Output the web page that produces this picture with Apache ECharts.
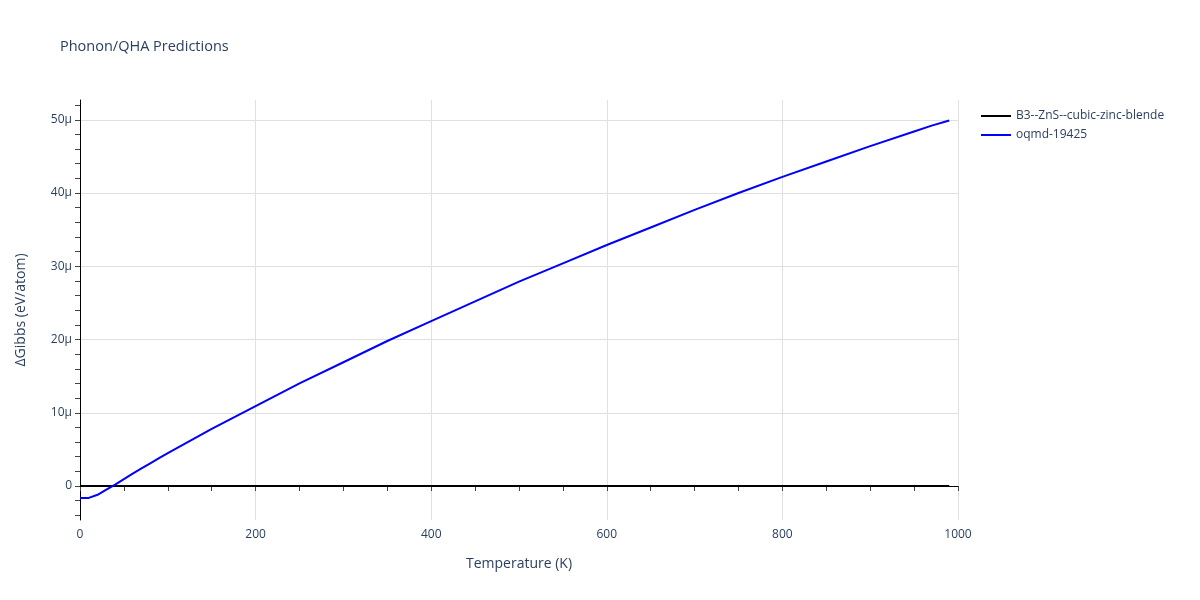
<!DOCTYPE html>
<html>
<head>
<meta charset="utf-8">
<script src="https://cdn.jsdelivr.net/npm/echarts@6/dist/echarts.min.js"></script>
<style>html,body{margin:0;padding:0;background:#fff}#c{width:1200px;height:600px}</style>
</head>
<body>
<div id="c"></div>
<script>
// Temperatures (K)
var temps = [0,10,20,30,40,50,60,70,80,90,100,150,200,250,300,350,400,450,500,550,600,650,700,750,800,850,900,950,970,990];
// ΔGibbs in µeV/atom
var oqmd = [-1.64,-1.62,-1.2,-0.5,0.2,0.95,1.7,2.4,3.1,3.8,4.5,7.8,10.9,14.0,16.9,19.8,22.5,25.2,27.9,30.4,32.9,35.3,37.7,40.0,42.2,44.3,46.4,48.4,49.2,49.9];
var refTemps = [0,990];
var refVals = [0,0];
var yMajor = [0,10,20,30,40,50];
var yMinor = [-4,-2,0,2,4,6,8,10,12,14,16,18,20,22,24,26,28,30,32,34,36,38,40,42,44,46,48,50,52];
var seriesNames = ['B3--ZnS--cubic-zinc-blende','oqmd-19425'];

var font = '"Open Sans", verdana, arial, sans-serif';
var txt = '#2a3f5f';
var yMin = -4.64, yMax = 52.7;

var chart = echarts.init(document.getElementById('c'));
chart.setOption({
  animation: false,
  backgroundColor: '#fff',
  title: {
    text: 'Phonon/QHA Predictions', left: 55, top: 34,
    textStyle: {fontFamily: font, fontSize: 14.5, fontWeight: 'normal', color: txt}
  },
  legend: {
    orient: 'vertical', left: 976, top: 105, itemWidth: 30, itemHeight: 2, itemGap: 7,
    icon: 'rect',
    textStyle: {fontFamily: font, fontSize: 12, color: txt},
    data: seriesNames
  },
  grid: {left: 80, right: 242, top: 100, bottom: 80, containLabel: false},
  xAxis: {
    type: 'value', min: 0, max: 1000, interval: 200,
    name: 'Temperature (K)', nameLocation: 'middle', nameGap: 37,
    nameTextStyle: {fontFamily: font, fontSize: 14, color: txt},
    axisLine: {show: true, lineStyle: {color: '#000', width: 1}},
    axisTick: {show: true, inside: false, length: 5, lineStyle: {color: '#444'}},
    minorTick: {show: true, splitNumber: 4, length: 5, lineStyle: {color: '#444'}},
    axisLabel: {fontFamily: font, fontSize: 12, color: txt, margin: 9,
      formatter: function (v) { return String(v); }},
    splitLine: {show: true, lineStyle: {color: '#e0e0e0', width: 1}}
  },
  yAxis: [{
    type: 'value', min: yMin, max: yMax, position: 'left',
    name: 'ΔGibbs (eV/atom)', nameLocation: 'middle', nameGap: 52, nameRotate: 90,
    nameTextStyle: {fontFamily: font, fontSize: 14, color: txt},
    axisLine: {show: true, onZero: false, lineStyle: {color: '#000', width: 1}},
    axisTick: {show: true, inside: false, length: 5, customValues: yMinor, lineStyle: {color: '#444'}},
    axisLabel: {show: false},
    splitLine: {show: false}
  }, {
    type: 'value', min: yMin, max: yMax, position: 'left',
    axisLine: {show: false},
    axisTick: {show: false, customValues: yMajor},
    axisLabel: {
      show: true, customValues: yMajor, fontFamily: font, fontSize: 12, color: txt, margin: 8,
      formatter: function (v) { return v === 0 ? '0' : v + 'µ'; }
    },
    splitLine: {show: true, lineStyle: {color: '#e0e0e0', width: 1}}
  }],
  series: [{
    name: seriesNames[0], type: 'line', yAxisIndex: 0, showSymbol: false, symbol: 'none',
    data: refTemps.map(function (t, i) { return [t, refVals[i]]; }),
    lineStyle: {color: '#000', width: 2}, itemStyle: {color: '#000'}, z: 3
  }, {
    name: seriesNames[1], type: 'line', yAxisIndex: 0, showSymbol: false, symbol: 'none',
    data: temps.map(function (t, i) { return [t, oqmd[i]]; }),
    lineStyle: {color: '#0000ff', width: 2}, itemStyle: {color: '#0000ff'}, z: 4
  }]
});
</script>
</body>
</html>
